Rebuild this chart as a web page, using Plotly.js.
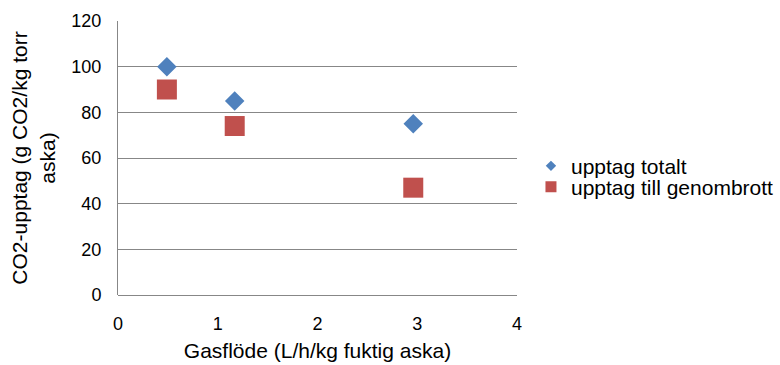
<!DOCTYPE html>
<html>
<head>
<meta charset="utf-8">
<script src="https://cdn.plot.ly/plotly-3.0.1.min.js"></script>
<style>html,body{margin:0;padding:0;background:#fff;}#chart{width:780px;height:365px;}</style>
</head>
<body>
<div id="chart"></div>
<script>
const gasflow = [0.49, 1.17, 2.96];
const uptakeTotal = [100, 85, 75];
const uptakeBreakthrough = [90, 74, 47];
const seriesNames = ["upptag totalt", "upptag till genombrott"];
const xTicks = [0, 1, 2, 3, 4];
const yTicks = [0, 20, 40, 60, 80, 100, 120];

const FONT = "Liberation Sans, Arial, sans-serif";
const BLUE = "#4F81BD", RED = "#C0504D";
const traces = [
  {x: gasflow, y: uptakeTotal, name: seriesNames[0], type: "scatter", mode: "markers",
   marker: {symbol: "diamond", size: 15, color: BLUE}, showlegend: false},
  {x: gasflow, y: uptakeBreakthrough, name: seriesNames[1], type: "scatter", mode: "markers",
   marker: {symbol: "square", size: 20, color: RED}, showlegend: false},
  // legend-only entries (smaller legend symbols, as in the reference)
  {x: [null], y: [null], name: seriesNames[0], type: "scatter", mode: "markers",
   marker: {symbol: "diamond", size: 8, color: BLUE}, legend: "legend", showlegend: true},
  {x: [null], y: [null], name: seriesNames[1], type: "scatter", mode: "markers",
   marker: {symbol: "square", size: 11, color: RED}, legend: "legend2", showlegend: true}
];
const legendBase = {xanchor: "left", yanchor: "middle", x: 1.035, font: {family: FONT, size: 21, color: "#000"},
  itemsizing: "trace", itemwidth: 30, bgcolor: "rgba(0,0,0,0)", borderwidth: 0};
const layout = {
  width: 780, height: 365,
  margin: {l: 118, r: 263, t: 21, b: 70, autoexpand: false},
  paper_bgcolor: "#fff", plot_bgcolor: "#fff",
  font: {family: FONT, size: 18, color: "#000"},
  showlegend: true,
  legend: Object.assign({}, legendBase, {y: 0.47}),
  legend2: Object.assign({}, legendBase, {y: 0.394}),
  xaxis: {range: [0, 4], tickvals: xTicks, ticktext: xTicks.map(String), showgrid: false, zeroline: false,
    showline: false, ticks: "", tickfont: {size: 18}, ticklabelstandoff: 16, automargin: false,
    title: {text: "Gasflöde (L/h/kg fuktig aska)", font: {size: 21}, standoff: 10}},
  yaxis: {range: [0, 120], tickvals: yTicks, ticktext: yTicks.map(String), showgrid: true, gridcolor: "#878787", gridwidth: 1,
    zeroline: true, zerolinecolor: "#878787", zerolinewidth: 1, automargin: false,
    showline: true, linecolor: "#878787", linewidth: 1, ticks: "", tickfont: {size: 18}, ticklabelstandoff: 12,
    title: {text: "CO2-upptag (g CO2/kg torr<br>aska)", font: {size: 21}, standoff: 10}}
};
Plotly.newPlot("chart", traces, layout, {displayModeBar: false, staticPlot: true});
</script>
</body>
</html>
